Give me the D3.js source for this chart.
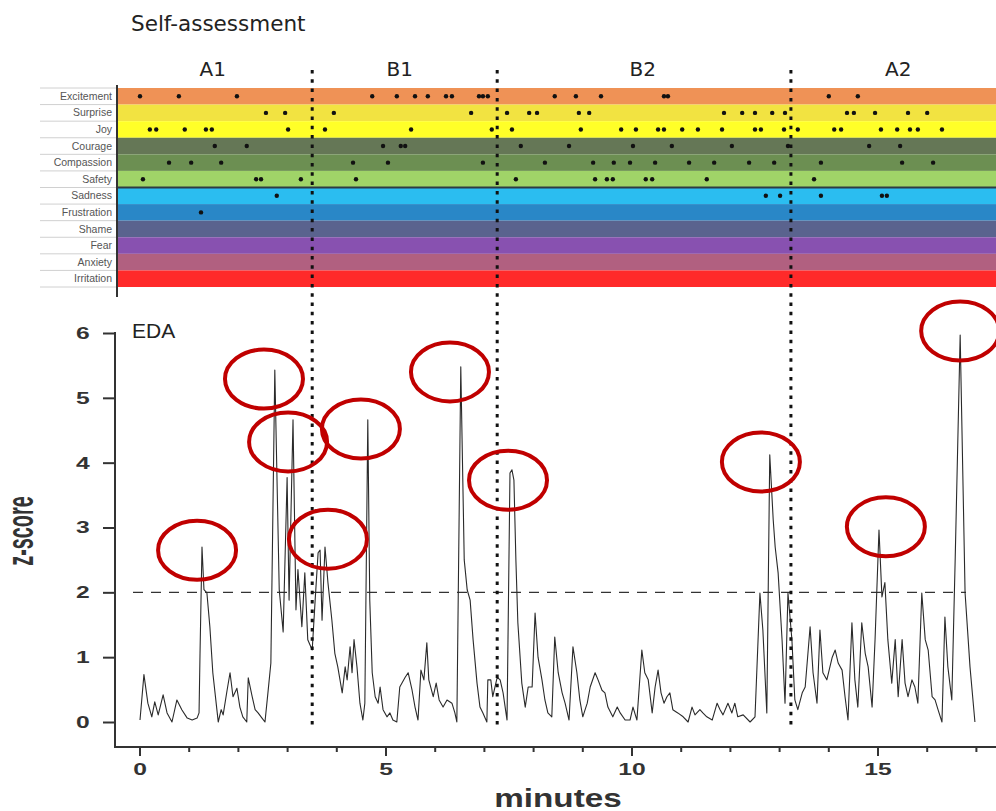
<!DOCTYPE html>
<html>
<head>
<meta charset="utf-8">
<script src="https://cdn.jsdelivr.net/npm/d3@7"></script>
<style>
  html, body { margin: 0; padding: 0; background: #fff; }
  svg { display: block; }
</style>
</head>
<body>
<div id="chart"></div>
<script>
// Emotion rows of the self-assessment panel
const emotions = ["Excitement", "Surprise", "Joy", "Courage", "Compassion", "Safety",
                  "Sadness", "Frustration", "Shame", "Fear", "Anxiety", "Irritation"];
const emotionColors = ["#EF9256", "#F2E341", "#FFFF28", "#657756", "#6C8F52", "#A0D468",
                       "#2BBDF0", "#2987C7", "#5A638E", "#8851B0", "#B16080", "#FF2A2A"];

// Self-assessment marks (minutes)
const excitement = [0.00, 0.79, 1.97, 4.72, 5.22, 5.59, 5.85, 6.22, 6.34, 6.89, 6.97, 7.07,
                    8.43, 8.86, 9.37, 10.65, 10.73, 14.00, 14.59];
const surprise = [2.56, 2.95, 3.94, 6.73, 7.46, 7.91, 8.07, 8.92, 9.13, 11.87, 12.24, 12.50,
                  12.85, 13.11, 14.37, 14.51, 14.94, 15.61, 16.00];
const joy = [0.20, 0.33, 0.91, 1.34, 1.46, 3.01, 3.76, 5.51, 7.15, 7.56, 8.96, 9.78, 10.08,
             10.53, 10.65, 11.02, 11.34, 11.83, 12.50, 12.62, 13.09, 13.37, 14.11, 14.25,
             15.06, 15.39, 15.65, 15.81, 16.30];
const courage = [1.52, 2.17, 4.94, 5.30, 5.39, 7.74, 8.72, 10.02, 10.81, 12.03, 13.17, 14.82, 15.45];
const compassion = [0.59, 1.04, 1.65, 4.33, 5.04, 6.97, 8.23, 9.21, 9.63, 9.96, 10.47, 11.16,
                    11.67, 12.38, 12.89, 13.84, 15.49, 16.12];
const safety = [0.06, 2.36, 2.46, 3.27, 4.39, 7.64, 9.25, 9.49, 9.61, 10.28, 10.41, 11.52, 13.70];
const sadness = [2.78, 12.72, 13.01, 13.84, 15.08, 15.18];
const frustration = [1.24];
const emotionMarks = [excitement, surprise, joy, courage, compassion, safety,
                      sadness, frustration, [], [], [], []];

// Phase boundaries and labels
const phaseBreaks = [3.5, 7.26, 13.23];
const phaseLabels = ["A1", "B1", "B2", "A2"];
const phaseCenters = [1.48, 5.28, 10.22, 15.41];

// EDA z-score trace
const edaMinutes = [0.00, 0.08, 0.16, 0.24, 0.30, 0.37, 0.47, 0.55, 0.65, 0.75, 0.85, 0.96, 1.06, 1.16, 1.20,
  1.22, 1.26, 1.30, 1.36, 1.42, 1.48, 1.57, 1.59, 1.65, 1.69, 1.77, 1.83, 1.89, 1.97, 2.03, 2.09, 2.17,
  2.20, 2.28, 2.34, 2.40, 2.48, 2.54, 2.60, 2.66, 2.74, 2.83, 2.91, 2.99, 3.03, 3.11, 3.17, 3.21, 3.29,
  3.35, 3.41, 3.50, 3.56, 3.62, 3.66, 3.70, 3.76, 3.82, 3.90, 3.96, 4.02, 4.11, 4.17, 4.21, 4.27, 4.31,
  4.35, 4.41, 4.47, 4.53, 4.57, 4.63, 4.67, 4.72, 4.78, 4.84, 4.88, 4.94, 5.02, 5.08, 5.14, 5.22, 5.28,
  5.39, 5.45, 5.53, 5.59, 5.65, 5.71, 5.77, 5.83, 5.87, 5.96, 6.02, 6.08, 6.16, 6.24, 6.34, 6.40, 6.44,
  6.52, 6.59, 6.65, 6.71, 6.77, 6.85, 6.91, 6.97, 7.05, 7.07, 7.13, 7.17, 7.26, 7.32, 7.38, 7.46, 7.52,
  7.56, 7.60, 7.64, 7.68, 7.76, 7.83, 7.89, 7.97, 8.03, 8.09, 8.17, 8.23, 8.29, 8.37, 8.43, 8.50, 8.58,
  8.64, 8.72, 8.80, 8.88, 8.94, 9.00, 9.09, 9.15, 9.25, 9.31, 9.39, 9.45, 9.51, 9.61, 9.70, 9.76, 9.86,
  9.96, 10.02, 10.10, 10.20, 10.26, 10.33, 10.41, 10.47, 10.53, 10.59, 10.65, 10.71, 10.77, 10.83, 10.93,
  11.04, 11.14, 11.22, 11.28, 11.38, 11.44, 11.52, 11.63, 11.73, 11.79, 11.85, 11.95, 12.03, 12.09, 12.15,
  12.26, 12.40, 12.50, 12.60, 12.66, 12.74, 12.80, 12.87, 12.91, 12.97, 13.05, 13.11, 13.17, 13.25, 13.31,
  13.37, 13.46, 13.52, 13.62, 13.68, 13.76, 13.82, 13.88, 13.96, 14.07, 14.13, 14.19, 14.27, 14.33, 14.39,
  14.47, 14.53, 14.59, 14.67, 14.74, 14.80, 14.88, 14.94, 15.02, 15.08, 15.14, 15.20, 15.28, 15.35, 15.41,
  15.49, 15.55, 15.61, 15.69, 15.75, 15.81, 15.89, 15.96, 16.02, 16.10, 16.16, 16.22, 16.30, 16.36, 16.42,
  16.50, 16.57, 16.67, 16.77, 16.87, 16.97];
const edaZ = [0.03, 0.73, 0.29, 0.08, 0.31, 0.11, 0.42, 0.14, 0.00, 0.34, 0.19, 0.06, 0.03, 0.06, 0.14,
  1.06, 2.70, 2.04, 1.99, 1.47, 0.76, 0.14, 0.00, 0.19, 0.11, 0.49, 0.76, 0.39, 0.52, 0.23, 0.08, 0.00,
  0.68, 0.39, 0.19, 0.14, 0.06, 0.00, 0.45, 0.91, 5.43, 2.04, 1.39, 3.77, 1.88, 4.66, 1.73, 2.35, 1.47,
  2.30, 1.27, 1.11, 1.88, 2.61, 2.65, 1.57, 2.70, 2.15, 1.57, 1.06, 0.85, 0.45, 0.85, 0.65, 1.16, 0.76,
  1.27, 0.85, 0.29, 0.03, 0.29, 4.66, 1.88, 0.76, 0.39, 0.29, 0.54, 0.19, 0.08, 0.14, 0.03, 0.00, 0.54,
  0.69, 0.76, 0.49, 0.23, 0.03, 0.80, 0.65, 1.22, 0.65, 0.39, 0.60, 0.34, 0.23, 0.34, 0.29, 0.14, 0.00,
  5.48, 2.50, 2.04, 1.88, 1.27, 0.60, 0.23, 0.14, 0.00, 0.65, 0.65, 0.39, 0.69, 0.65, 0.45, 0.03, 3.84,
  3.89, 3.73, 2.50, 1.53, 0.60, 0.23, 0.54, 0.54, 1.68, 1.00, 0.65, 0.34, 0.14, 0.08, 1.31, 0.76, 0.45,
  0.29, 0.03, 1.16, 0.76, 0.34, 0.08, 0.29, 0.54, 0.76, 0.65, 0.49, 0.45, 0.23, 0.08, 0.23, 0.14, 0.03,
  0.03, 0.23, 0.03, 1.11, 0.76, 0.65, 0.14, 0.54, 0.80, 0.45, 0.29, 0.39, 0.45, 0.19, 0.14,
  0.08, 0.00, 0.23, 0.11, 0.19, 0.14, 0.08, 0.03, 0.29, 0.19, 0.11, 0.29, 0.14, 0.29, 0.08,
  0.11, 0.00, 0.08, 1.99, 1.42, 0.14, 4.12, 3.12, 2.70, 2.30, 1.27, 0.29, 1.99, 1.27, 0.34,
  0.19, 0.45, 0.54, 1.47, 0.76, 0.29, 1.42, 0.76, 0.65, 1.00, 1.11, 0.91, 0.80, 0.39, 0.03,
  1.53, 0.65, 0.23, 1.53, 1.06, 0.85, 0.23, 1.27, 2.96, 1.93, 2.15, 1.27, 0.60, 1.27, 0.39,
  1.27, 0.60, 0.39, 0.65, 0.54, 0.29, 1.99, 1.27, 1.11, 0.39, 0.34, 0.19, 0.00, 1.62, 0.85,
  0.34, 2.55, 5.97, 1.99, 0.85, 0.00];

// Highlighted peaks (ellipse centres, minutes / z)
const peakMinutes = [1.16, 2.52, 3.01, 3.82, 4.49, 6.30, 7.48, 12.62, 15.16, 16.67];
const peakZ = [2.65, 5.29, 4.32, 2.82, 4.52, 5.40, 3.73, 4.01, 3.01, 6.03];

const threshold = 2;
const yTicks = [0, 1, 2, 3, 4, 5, 6];
const xTicks = [0, 5, 10, 15];
const xMinor = d3.range(0, 18);

// Layout
const width = 996, height = 811;
const bandTop = 88, bandBottom = 287, bandLeft = 117;

const svg = d3.select("#chart").append("svg")
    .attr("width", width)
    .attr("height", height)
    .style("font-family", "'Liberation Sans', Arial, sans-serif");

const x = d3.scaleLinear().domain([0, 17]).range([140, 140 + 17 * 49.2]);
const y = d3.scaleLinear().domain([0, 6]).range([722, 333]);
const row = d3.scaleBand().domain(emotions).range([bandTop, bandBottom]);

// ---- Self-assessment panel ----
svg.append("text")
    .attr("x", 131).attr("y", 31)
    .style("font-family", "'DejaVu Sans', sans-serif")
    .style("font-size", "21.5px")
    .attr("fill", "#222")
    .text("Self-assessment");

svg.append("g").selectAll("text")
    .data(phaseLabels)
    .join("text")
    .attr("x", (d, i) => x(phaseCenters[i]))
    .attr("y", 76)
    .attr("text-anchor", "middle")
    .style("font-family", "'DejaVu Sans', sans-serif")
    .style("font-size", "20px")
    .attr("fill", "#222")
    .text(d => d);

// colour bands
svg.append("g").selectAll("rect")
    .data(emotions)
    .join("rect")
    .attr("x", bandLeft)
    .attr("y", d => row(d))
    .attr("width", width - bandLeft)
    .attr("height", row.bandwidth())
    .attr("fill", (d, i) => emotionColors[i]);

// label grid lines
svg.append("g").selectAll("line")
    .data(d3.range(emotions.length + 1))
    .join("line")
    .attr("x1", 40).attr("x2", bandLeft)
    .attr("y1", i => bandTop + i * row.bandwidth())
    .attr("y2", i => bandTop + i * row.bandwidth())
    .attr("stroke", "#d0d0d0")
    .attr("stroke-width", 1);

svg.append("g").selectAll("text")
    .data(emotions)
    .join("text")
    .attr("x", 112)
    .attr("y", d => row(d) + row.bandwidth() / 2 + 3.6)
    .attr("text-anchor", "end")
    .style("font-size", "10.5px")
    .attr("fill", "#555")
    .text(d => d);

// divider between positive and negative emotions
svg.append("line")
    .attr("x1", bandLeft).attr("x2", width)
    .attr("y1", row("Sadness")).attr("y2", row("Sadness"))
    .attr("stroke", "#2d3b44")
    .attr("stroke-width", 2.2);

svg.append("line")
    .attr("x1", bandLeft).attr("x2", bandLeft)
    .attr("y1", 85).attr("y2", 297)
    .attr("stroke", "#333")
    .attr("stroke-width", 2);

// marks
const marks = emotionMarks.flatMap((arr, i) => arr.map(m => ({ emotion: emotions[i], m })));
svg.append("g").selectAll("circle")
    .data(marks)
    .join("circle")
    .attr("cx", d => x(d.m))
    .attr("cy", d => row(d.emotion) + row.bandwidth() / 2)
    .attr("r", 2.2)
    .attr("fill", "#111");

// ---- EDA panel ----
svg.append("text")
    .attr("x", 132).attr("y", 338)
    .style("font-size", "21px")
    .attr("fill", "#222")
    .text("EDA");

// threshold
svg.append("line")
    .attr("x1", 133).attr("x2", 966)
    .attr("y1", y(threshold)).attr("y2", y(threshold))
    .attr("stroke", "#333")
    .attr("stroke-width", 1.2)
    .attr("stroke-dasharray", "10,8");

// trace
const eda = edaMinutes.map((m, i) => ({ m, z: edaZ[i] }));
svg.append("path")
    .datum(eda)
    .attr("fill", "none")
    .attr("stroke", "#2a2a2a")
    .attr("stroke-width", 1.1)
    .attr("stroke-linejoin", "round")
    .attr("d", d3.line().x(d => x(d.m)).y(d => y(d.z)));

// phase dividers
svg.append("g").selectAll("line")
    .data(phaseBreaks)
    .join("line")
    .attr("x1", d => x(d)).attr("x2", d => x(d))
    .attr("y1", 70).attr("y2", 726)
    .attr("stroke", "#111")
    .attr("stroke-width", 3)
    .attr("stroke-dasharray", "3.5,5.8");

// peak ellipses
svg.append("g").selectAll("ellipse")
    .data(peakMinutes)
    .join("ellipse")
    .attr("cx", d => x(d))
    .attr("cy", (d, i) => y(peakZ[i]))
    .attr("rx", 39)
    .attr("ry", 29.5)
    .attr("fill", "none")
    .attr("stroke", "#C00000")
    .attr("stroke-width", 4);

// y axis
const yAxis = svg.append("g")
    .attr("transform", "translate(115,0)")
    .call(d3.axisLeft(y).tickValues(yTicks).tickFormat(d3.format("d"))
        .tickSize(12).tickSizeOuter(0).tickPadding(5));
yAxis.select(".domain").remove();
yAxis.selectAll(".tick line").attr("stroke", "#333").attr("stroke-width", 2);
yAxis.selectAll(".tick text")
    .attr("transform", "scale(1.45,1)")
    .attr("x", -17.5)
    .style("font-size", "17px")
    .style("font-weight", "bold")
    .attr("fill", "#333");
svg.append("line")
    .attr("x1", 115).attr("x2", 115)
    .attr("y1", y(6) - 1).attr("y2", 748)
    .attr("stroke", "#333").attr("stroke-width", 2);

// x axis
svg.append("line")
    .attr("x1", 114).attr("x2", width)
    .attr("y1", 747).attr("y2", 747)
    .attr("stroke", "#333").attr("stroke-width", 2);
svg.append("g").selectAll("line")
    .data(xMinor)
    .join("line")
    .attr("x1", d => x(d)).attr("x2", d => x(d))
    .attr("y1", 747)
    .attr("y2", d => xTicks.includes(d) ? 756 : 752)
    .attr("stroke", "#333").attr("stroke-width", 2);
svg.append("g").selectAll("text")
    .data(xTicks)
    .join("text")
    .attr("transform", d => `translate(${x(d)},775) scale(1.45,1)`)
    .attr("text-anchor", "middle")
    .style("font-size", "17px")
    .style("font-weight", "bold")
    .attr("fill", "#333")
    .text(d => d);

svg.append("text")
    .attr("transform", "translate(558,807) scale(1.33,1)")
    .attr("text-anchor", "middle")
    .style("font-size", "25px")
    .style("font-weight", "bold")
    .attr("fill", "#333")
    .text("minutes");

svg.append("text")
    .attr("transform", "translate(33,531) rotate(-90) scale(0.55,1)")
    .attr("text-anchor", "middle")
    .style("font-size", "36px")
    .style("font-weight", "bold")
    .attr("fill", "#333")
    .text("z-score");
</script>
</body>
</html>
